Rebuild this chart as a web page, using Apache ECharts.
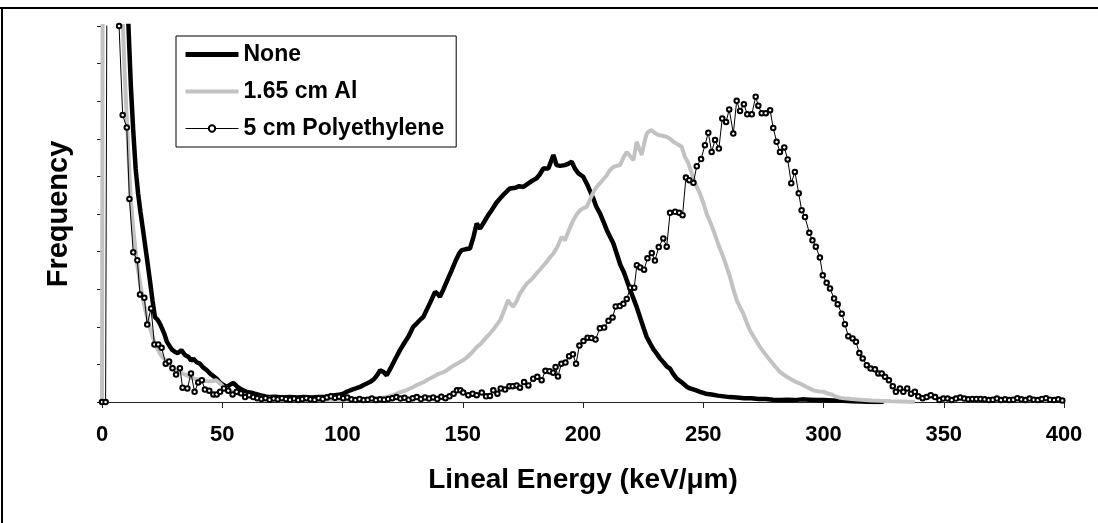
<!DOCTYPE html>
<html>
<head>
<meta charset="utf-8">
<script src="https://cdn.jsdelivr.net/npm/echarts@6/dist/echarts.min.js"></script>
<style>
html,body{margin:0;padding:0;background:#fff;}
#c{width:1098px;height:523px;}
</style>
</head>
<body>
<div id="c"></div>
<script>
// ---- data (x: keV/um, y: arbitrary frequency units, axis 0..10) ----
const xTicks = [0, 50, 100, 150, 200, 250, 300, 350, 400];
const seriesNames = ['None', '1.65 cm Al', '5 cm Polyethylene'];

const noneX = [9,11,12,13,14,15,16,17,18.6,20,21,22,23,24,25,26,27,28,29,30.4,31.5,33,34.5,36,37,38,39.5,40.7,42,43.5,45,46.5,47.7,49,50.5,51.9,53,54.6,56,57.5,59,60.2,62,63.5,65.7,68,70,72,75,78,81,84,87,90,93,95,97,99,100.3,102,104,105.5,107.3,109,111.4,113,114.5,115.6,117,118.4,120,122,123.9,125.5,127.5,129.4,131,132.5,133.6,135,136.5,138.5,139.5,140.5,142,144,145.4,147,148.5,149.6,151,153,154.5,155.8,157.2,159,160.6,162,164,165.5,167.5,169.6,172,173.5,175.2,177,178.8,180.7,182,183.5,185.6,187.7,189,190.5,192.5,194,195.3,196.7,198.1,200.1,202,204.3,205.5,207.1,208.5,209.9,211.2,212.6,214,215.5,217,218.2,219.5,221,222.3,224,225.3,226.5,228,229.3,230.6,232,233.5,234.8,236.2,237.5,239,240.5,242,243.3,244.5,246.5,248.7,251,253.5,256,258.5,261,264,267,270,273,276,279,282,285,288,291,294,297,300,304,308,312,316,320,325];
const noneY = [14,10,8.4,7.2,6.2,5.55,5.05,4.6,3.86,3.2,2.7,2.26,2.2,2.09,1.95,1.8,1.6,1.5,1.4,1.33,1.3,1.38,1.25,1.2,1.1,1.15,1.05,1.02,0.92,0.85,0.75,0.68,0.62,0.52,0.45,0.4,0.45,0.51,0.42,0.35,0.3,0.27,0.25,0.22,0.18,0.15,0.13,0.14,0.12,0.13,0.12,0.13,0.12,0.13,0.14,0.16,0.18,0.2,0.22,0.28,0.33,0.36,0.4,0.46,0.53,0.6,0.72,0.84,0.8,0.71,0.9,1.15,1.38,1.55,1.75,2.0,2.1,2.2,2.26,2.45,2.65,2.93,2.88,2.8,3.0,3.3,3.5,3.75,3.95,4.04,4.06,4.08,4.4,4.75,4.61,4.8,4.97,5.1,5.3,5.41,5.55,5.68,5.7,5.74,5.72,5.8,5.88,5.95,6.05,6.21,6.21,6.57,6.3,6.28,6.3,6.34,6.39,6.2,6.08,5.99,5.75,5.41,5.2,5.01,4.8,4.57,4.4,4.22,3.95,3.65,3.45,3.24,3.0,2.75,2.53,2.2,1.95,1.73,1.55,1.4,1.29,1.16,1.05,0.95,0.89,0.75,0.62,0.55,0.47,0.4,0.36,0.32,0.27,0.22,0.2,0.17,0.15,0.13,0.12,0.1,0.1,0.08,0.08,0.06,0.05,0.06,0.05,0.07,0.06,0.05,0.05,0.04,0.03,0.02,0.01,0,0];

const alX = [0,1,8.7,9.5,10.5,11.3,12,13,14,15,16,17,18,19,20,21,22,23,24,25,26.5,28,29.5,31,32.5,34,35.5,37,38.5,40,41.5,43,44.5,46,47.5,49,50.5,52,53.5,55,57,59,61,63,65,68,71,74,77,80,84,88,92,96,100,104,108,112,115,118,121,123.5,126,129.4,131.5,133.5,135.5,137.8,140,141.5,143.3,145,146.5,148.5,150.2,152,154,155.8,157.5,159.5,161.3,163,165.5,167,168.9,170,171,172.5,173.8,175,176.6,178.5,180.7,182.5,184.9,186.3,187.7,189.5,191.1,192.5,194,196,197.5,198.8,200,201.5,203,204.5,205.7,207.5,209.9,211,212.6,214,215.4,216.8,218.2,219.5,221,222.3,223.3,224.4,225.5,226.5,227.5,228.6,230,231.3,233,234.8,236.2,237.6,239.5,241,242.4,243.8,245.2,247.3,248.6,250,251.4,252.8,254.2,256.2,258.3,259.7,261.1,262.5,263.9,265.3,266.7,268,269.4,271.5,273.6,275.7,277.8,279.8,281.9,284,286.1,288,290.2,293,295.8,298,300,302,303.4,305,307,309.6,313,317,320,323.5,328,333,338];
const alY = [0,40,10,8.6,7.3,6.2,5.4,4.6,4.0,3.5,3.1,2.75,2.45,2.2,1.95,1.75,1.55,1.42,1.3,1.2,1.1,1.0,0.92,0.85,0.8,0.74,0.7,0.65,0.62,0.6,0.58,0.56,0.55,0.56,0.58,0.5,0.4,0.33,0.28,0.25,0.22,0.19,0.16,0.14,0.12,0.1,0.08,0.07,0.06,0.06,0.05,0.05,0.05,0.05,0.05,0.06,0.07,0.08,0.1,0.13,0.18,0.25,0.3,0.4,0.47,0.52,0.6,0.67,0.75,0.78,0.84,0.92,0.98,1.05,1.11,1.2,1.33,1.46,1.55,1.7,1.82,1.95,2.17,2.4,2.71,2.6,2.53,2.7,2.89,3.0,3.15,3.25,3.42,3.55,3.73,3.85,3.95,4.15,4.39,4.3,4.55,4.84,5.0,5.1,5.15,5.19,5.4,5.6,5.72,5.85,6.03,6.15,6.25,6.28,6.3,6.5,6.65,6.55,6.43,6.92,6.75,6.57,6.9,7.14,7.2,7.23,7.15,7.1,7.08,7.05,7.0,6.92,6.85,6.79,6.52,6.35,6.08,5.72,5.55,5.3,5.01,4.8,4.57,4.2,3.86,3.6,3.33,3.0,2.71,2.52,2.35,2.12,1.91,1.68,1.46,1.28,1.11,0.95,0.8,0.7,0.62,0.55,0.49,0.4,0.31,0.28,0.27,0.22,0.2,0.15,0.11,0.09,0.07,0.05,0.04,0.03,0.02,0.01,0];

const polyX = [0,1.5,3.2,5.2,7.1,8.6,10.3,11.4,13,14.7,15.8,17.6,18.8,20.4,21.8,23.4,24.8,26.5,27.9,29.3,30.8,32.4,33.5,35.5,37,38.5,40,41.5,42.8,44.6,46.3,47.7,49.1,50.7,52.5,54.3,56,57.8,59.5,61.2,62.9,64.6,66.3,68,69.7,71.4,73.1,74.8,76.5,78.2,79.9,81.6,83.3,85,86.7,88.4,90.1,91.8,93.5,95.2,96.9,98.6,100.3,102,103.7,105.4,107.1,108.8,110.5,112.2,113.9,115.6,117.3,119,120.7,122.4,124.1,125.8,127.5,129.2,130.9,132.6,134.3,136,137.7,139.4,141.1,142.8,144.5,146.2,147.6,149,150.2,152.3,154.1,155.8,157.9,159.7,161.3,162.7,164.4,165.8,167.6,169.4,170.8,172.4,173.8,175.5,177.3,179.3,181,182.8,184.4,186.1,187.6,188.6,189.6,191,192.7,194.2,195.8,197.1,198.5,200.2,201.9,203.5,205.2,207,208.8,210.6,212.3,213.6,215.3,216.8,218.2,219.7,221.3,222.4,223.8,225.4,226.8,228.6,229.9,231.5,233.4,234.8,236.2,238.3,240,241.4,242.8,244.2,245.9,247.3,249.1,250.7,252.1,253.5,254.9,256.5,257.9,259.5,260.8,262.5,263.9,265.3,266.9,268.3,270.2,271.8,272.9,274.3,276,277.8,279.1,280.5,281.9,283.7,285.1,286.6,288.1,289.7,290.9,292.3,294.1,295.4,296.8,298.5,299.7,301.3,302.7,304.4,305.9,307.6,308.9,310.3,312.1,313.5,314.9,316.3,318,319.6,321.4,322.8,324.2,325.6,327.2,328.8,330.1,331.8,333.2,334.8,336.4,338,339.4,341.2,342.9,344.6,346.4,348.2,349.8,351.6,353.3,355.1,356.8,358.5,360.2,361.9,363.6,365.3,367,368.7,370.4,372.1,373.8,375.5,377.2,378.9,380.6,382.3,384,385.7,387.4,389.1,390.8,392.5,394.2,395.9,397.6,399.3];
const polyY = [0,0,35,16,10.0,7.63,7.3,5.4,3.98,3.77,2.86,2.77,2.06,2.49,1.53,1.53,1.44,1.02,1.08,0.9,0.73,0.9,0.38,0.36,0.76,0.27,0.52,0.58,0.33,0.3,0.2,0.2,0.27,0.36,0.3,0.2,0.27,0.23,0.13,0.18,0.13,0.1,0.08,0.1,0.06,0.09,0.07,0.1,0.08,0.06,0.09,0.05,0.08,0.1,0.07,0.06,0.1,0.08,0.12,0.15,0.11,0.14,0.1,0.12,0.07,0.05,0.08,0.05,0.06,0.09,0.05,0.07,0.06,0.08,0.1,0.13,0.09,0.11,0.06,0.1,0.13,0.08,0.12,0.09,0.12,0.08,0.14,0.1,0.15,0.22,0.31,0.31,0.25,0.18,0.22,0.18,0.25,0.15,0.16,0.31,0.22,0.36,0.33,0.42,0.42,0.44,0.38,0.53,0.44,0.62,0.67,0.58,0.83,0.82,0.78,0.93,0.68,1.02,1.05,1.22,1.27,1.02,1.5,1.62,1.71,1.7,1.66,1.96,1.98,2.16,2.25,2.54,2.55,2.61,2.74,3.04,3.04,3.64,3.58,3.52,3.82,3.96,3.76,4.12,4.35,4.13,5.03,5.06,5.03,4.97,5.97,5.9,5.83,6.27,6.46,6.83,7.16,6.65,6.97,6.74,7.54,7.45,7.78,7.14,8.01,7.74,7.92,7.65,7.65,8.12,7.88,7.68,7.68,7.76,7.29,6.92,6.65,6.77,6.45,5.82,6.12,5.55,5.1,4.92,4.5,4.3,4.13,3.84,3.37,3.17,3.02,2.75,2.6,2.35,2.07,1.75,1.69,1.6,1.3,1.16,0.98,0.89,0.87,0.76,0.76,0.67,0.58,0.42,0.27,0.36,0.27,0.36,0.22,0.27,0.15,0.1,0.13,0.18,0.13,0.05,0.09,0.09,0.05,0.09,0.12,0.09,0.07,0.08,0.08,0.08,0.07,0.05,0.06,0.09,0.05,0.07,0.05,0.06,0.1,0.07,0.05,0.09,0.06,0.05,0.08,0.1,0.06,0.05,0.07,0.04];

const zip = (xs, ys) => xs.map((x, i) => [x, ys[i]]);
const FONT = '"Liberation Sans", Arial, sans-serif';

const chart = echarts.init(document.getElementById('c'), null, {renderer: 'canvas'});
chart.setOption({
  animation: false,
  backgroundColor: '#ffffff',
  grid: {left: 102, top: 26, width: 962, height: 376, containLabel: false},
  legend: {
    orient: 'vertical',
    left: 176, top: 36,
    padding: [7, 12, 7, 7],
    backgroundColor: '#ffffff',
    borderColor: '#000000',
    borderWidth: 1,
    itemWidth: 53,
    itemHeight: 8,
    itemGap: 14,
    textStyle: {fontFamily: FONT, fontWeight: 'bold', fontSize: 23, color: '#000'},
    data: [
      {name: seriesNames[0], itemStyle: {opacity: 0}, lineStyle: {width: 5, color: '#000'}},
      {name: seriesNames[1], itemStyle: {opacity: 0}, lineStyle: {width: 4, color: '#c2c2c2'}},
      {name: seriesNames[2], lineStyle: {width: 1, color: '#000'}}
    ]
  },
  xAxis: {
    type: 'value', min: 0, max: 400, interval: 50,
    name: 'Lineal Energy (keV/\u03bcm)',
    nameLocation: 'middle', nameGap: 64,
    nameTextStyle: {fontFamily: FONT, fontWeight: 'bold', fontSize: 28, color: '#000'},
    axisLine: {show: true, onZero: false, lineStyle: {color: '#222', width: 1}},
    axisTick: {show: true, inside: false, length: 6, lineStyle: {color: '#222'}},
    axisLabel: {show: true, margin: 22, fontFamily: FONT, fontWeight: 'bold', fontSize: 22, color: '#000',
      formatter: v => xTicks.indexOf(v) >= 0 ? String(v) : ''},
    splitLine: {show: false}
  },
  yAxis: {
    type: 'value', min: 0, max: 10, interval: 1,
    name: 'Frequency',
    nameLocation: 'middle', nameGap: 29, nameRotate: 90,
    nameTextStyle: {fontFamily: FONT, fontWeight: 'bold', fontSize: 29, color: '#000'},
    axisLine: {show: true, lineStyle: {color: '#222', width: 1}},
    axisTick: {show: true, inside: false, length: 5, lineStyle: {color: '#222'}},
    axisLabel: {show: false},
    splitLine: {show: false}
  },
  series: [
    {
      name: seriesNames[0], type: 'line', data: zip(noneX, noneY),
      symbol: 'none', clip: true,
      lineStyle: {color: '#000000', width: 4.5},
      itemStyle: {color: '#000000'}, z: 2
    },
    {
      name: seriesNames[1], type: 'line', data: zip(alX, alY),
      symbol: 'none', clip: true,
      lineStyle: {color: '#c2c2c2', width: 4},
      itemStyle: {color: '#c2c2c2'}, z: 3
    },
    {
      name: seriesNames[2], type: 'line', data: zip(polyX, polyY),
      symbol: 'emptyCircle', symbolSize: 4.5, showAllSymbol: true, clip: true,
      lineStyle: {color: '#000000', width: 1},
      itemStyle: {color: '#000000', borderColor: '#000000', borderWidth: 1.5},
      z: 4
    }
  ],
  graphic: [
    {type: 'line', shape: {x1: 0, y1: 8, x2: 1098, y2: 8}, style: {stroke: '#000', lineWidth: 2}, silent: true},
    {type: 'line', shape: {x1: 2, y1: 8, x2: 2, y2: 523}, style: {stroke: '#000', lineWidth: 2}, silent: true}
  ]
});
</script>
</body>
</html>
